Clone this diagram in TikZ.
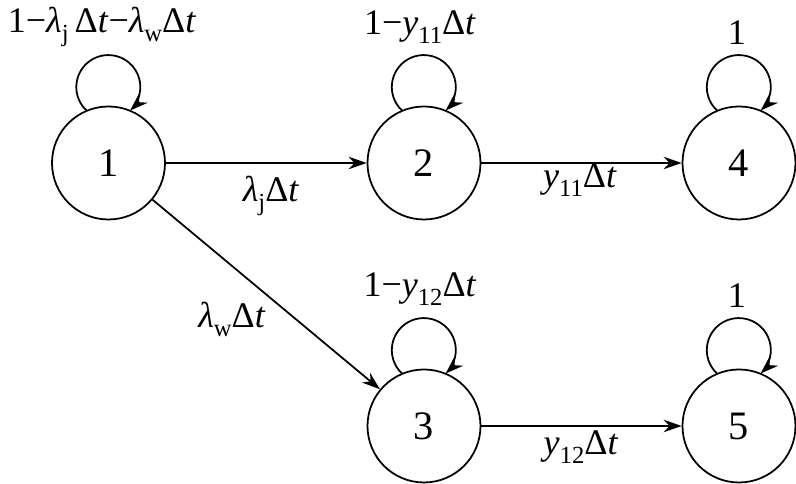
\documentclass[tikz,border=0pt]{standalone}
\usepackage{fontspec}
\setmainfont{Liberation Serif}
\usetikzlibrary{arrows.meta}
\newcommand{\lsub}[1]{\raisebox{-0.5ex}{\fontsize{14}{16}\selectfont #1}}

\begin{document}
\begin{tikzpicture}[>={Stealth[length=3.6mm, width=2.5mm]}, line width=1pt,
    state/.style={draw, circle, minimum size=2.26cm, inner sep=0pt, font=\fontsize{23}{27}\selectfont},
    lbl/.style={anchor=base, inner sep=0pt, font=\fontsize{20.5}{24}\selectfont}]
    \useasboundingbox (0,0) rectangle (15.92,9.68);

    % States
    \node[state] (n1) at (2.17,6.42) {1};
    \node[state] (n2) at (8.48,6.42) {2};
    \node[state] (n4) at (14.78,6.42) {4};
    \node[state] (n3) at (8.48,1.16) {3};
    \node[state] (n5) at (14.78,1.16) {5};

    % Transitions between states
    \draw[->] (n1) -- (n2);
    \draw[->] (n2) -- (n4);
    \draw[->] (n1) -- (n3);
    \draw[->] (n3) -- (n5);

    % Self loops
    \draw[->] ([shift={(-0.44,1.05)}]n1.center) arc[start angle=227, end angle=-47, radius=0.64];
    \draw[->] ([shift={(-0.44,1.05)}]n2.center) arc[start angle=227, end angle=-47, radius=0.64];
    \draw[->] ([shift={(-0.44,1.05)}]n4.center) arc[start angle=227, end angle=-47, radius=0.64];
    \draw[->] ([shift={(-0.44,1.05)}]n3.center) arc[start angle=227, end angle=-47, radius=0.64];
    \draw[->] ([shift={(-0.44,1.05)}]n5.center) arc[start angle=227, end angle=-47, radius=0.64];

    % Loop labels
    \node[lbl] (ln1) at (2.04,9.02) {1−\textit{λ}\lsub{j}\,Δ\textit{t}−\textit{λ}\lsub{w}Δ\textit{t}};
    \node[lbl] (ln2) at (8.40,8.98) {1−\textit{y}\lsub{11}Δ\textit{t}};
    \node[lbl] (ln4) at (14.74,8.78) {1};
    \node[lbl] (ln3) at (8.40,3.74) {1−\textit{y}\lsub{12}Δ\textit{t}};
    \node[lbl] (ln5) at (14.74,3.52) {1};

    % Transition labels
    \node[lbl] (l12) at (5.42,5.64) {\textit{λ}\lsub{j}Δ\textit{t}};
    \node[lbl] (l24) at (11.60,5.92) {\textit{y}\lsub{11}Δ\textit{t}};
    \node[lbl] (l13) at (4.64,3.12) {\textit{λ}\lsub{w}Δ\textit{t}};
    \node[lbl] (l35) at (11.62,0.58) {\textit{y}\lsub{12}Δ\textit{t}};
\end{tikzpicture}
\end{document}
